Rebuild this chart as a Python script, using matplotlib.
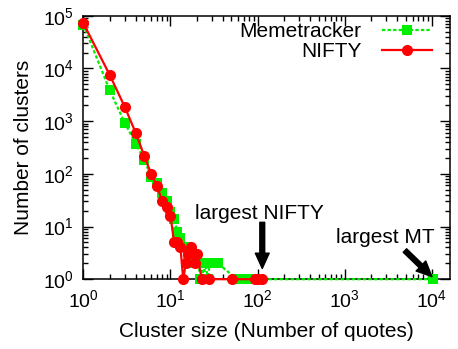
import matplotlib
matplotlib.use("Agg")
import matplotlib.pyplot as plt
from matplotlib.ticker import LogLocator

plt.rcParams['font.family'] = ['Liberation Sans', 'DejaVu Sans']

# Memetracker (green squares)
mt_sizes = [1, 2, 3, 4, 5, 6, 7, 8, 9, 10, 11, 12, 13, 14, 15, 16, 17, 18, 19, 20,
            21, 22, 23, 24, 25, 27, 28, 30, 33, 35, 58, 76, 80, 85, 10200]
mt_counts = [68000, 3900, 910, 370, 185, 87, 68, 44, 30, 19, 14, 8, 6, 4, 4, 3, 3, 3, 2, 2,
             2, 1, 2, 1, 2, 1, 2, 2, 2, 2, 1, 1, 1, 1, 1]

# NIFTY (red circles)
nf_sizes = [1, 2, 3, 4, 5, 6, 7, 8, 9, 10, 11, 12, 13, 14, 15, 16, 17, 18, 19, 20,
            23, 28, 51, 94, 102, 112]
nf_counts = [72000, 7600, 1830, 590, 218, 100, 59, 31, 23, 16, 5, 5, 4, 1, 2, 3, 4, 3, 2, 3,
             1, 1, 1, 1, 1, 1]

fig = plt.figure(figsize=(4.58, 3.49), dpi=100)
ax = fig.add_axes([0.182, 0.2, 0.801, 0.755])

green = '#00ee00'
red = '#ff0000'
ax.plot(mt_sizes, mt_counts, linestyle=(0, (1.5, 1.0)), color=green, lw=1.6,
        marker='s', markersize=7.5, markeredgewidth=0, clip_on=False, label='Memetracker', zorder=3)
ax.plot(nf_sizes, nf_counts, linestyle='-', color=red, lw=1.6,
        marker='o', markersize=8, markeredgewidth=0, clip_on=False, label='NIFTY', zorder=4)

ax.set_xscale('log')
ax.set_yscale('log')
ax.set_xlim(1, 10**4.21)
ax.set_ylim(1, 1e5)
ax.xaxis.set_major_locator(LogLocator(base=10, numticks=10))
ax.yaxis.set_major_locator(LogLocator(base=10, numticks=10))
ax.xaxis.set_minor_locator(LogLocator(base=10, subs=range(2, 10), numticks=20))
ax.yaxis.set_minor_locator(LogLocator(base=10, subs=range(2, 10), numticks=20))

ax.tick_params(which='both', direction='in', top=True, right=True, labelsize=14, width=1)
ax.tick_params(which='major', length=7, pad=7)
ax.tick_params(which='minor', length=3.5)
for s in ax.spines.values():
    s.set_linewidth(1.1)

ax.set_xlabel('Cluster size (Number of quotes)', fontsize=15, labelpad=8)
ax.set_ylabel('Number of clusters', fontsize=15, labelpad=7)

leg = ax.legend(loc='upper right', bbox_to_anchor=(0.99, 1.03), frameon=False, markerfirst=False,
                fontsize=15, handlelength=2.4, labelspacing=0.05, handletextpad=1.0,
                borderaxespad=0.3)
for t in leg.get_texts():
    t.set_ha('right')

arrow = dict(facecolor='black', edgecolor='black', width=3.5, headwidth=10,
             headlength=11, shrink=0.0)
ax.text(105, 18, 'largest NIFTY', fontsize=15, ha='center', va='center', zorder=5)
ax.annotate('', xy=(113, 1.6), xytext=(113, 12), arrowprops=arrow, zorder=5)
ax.text(2900, 6.3, 'largest MT', fontsize=15, ha='center', va='center', zorder=5)
ax.annotate('', xy=(10000, 1.12), xytext=(4900, 3.5), arrowprops=arrow, zorder=5)

fig.savefig('out.png', dpi=100)
